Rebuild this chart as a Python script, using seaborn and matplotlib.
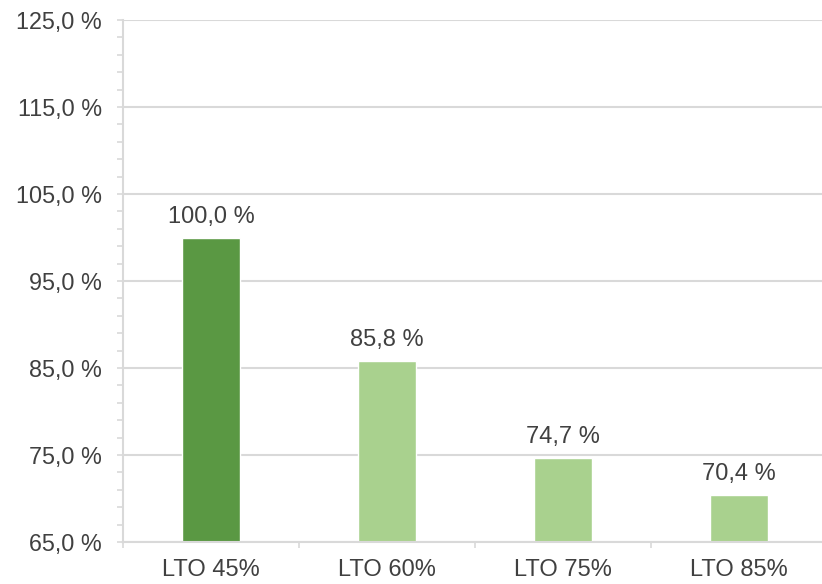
import matplotlib
matplotlib.use("Agg")
import matplotlib.pyplot as plt
from matplotlib.ticker import FixedLocator, MultipleLocator, FuncFormatter
import seaborn as sns
import pandas as pd

categories = ["LTO 45%", "LTO 60%", "LTO 75%", "LTO 85%"]
values = [100.0, 85.8, 74.7, 70.4]
bar_colors = ["#5A9843", "#A9D18E", "#A9D18E", "#A9D18E"]

sns.set_theme(style="white")
plt.rcParams["font.family"] = ["Liberation Sans", "DejaVu Sans"]

TEXT = "#404040"
GRID = "#D9D9D9"

df = pd.DataFrame({"cat": categories, "val": values})

fig = plt.figure(figsize=(8.22, 5.84), dpi=100)
ax = fig.add_axes([123 / 822, 42 / 584, 704 / 822, 522 / 584])

sns.barplot(data=df, x="cat", y="val", hue="cat", palette=bar_colors,
            legend=False, width=0.335, saturation=1, ax=ax, zorder=3)

ax.set_ylim(65, 125)
ax.set_xlim(-0.5, 3.5)

# y axis: major every 10 starting at 65, minor every 2
ax.yaxis.set_major_locator(MultipleLocator(10, offset=5))
ax.yaxis.set_minor_locator(MultipleLocator(2, offset=1))
ax.yaxis.set_major_formatter(FuncFormatter(lambda v, p: f"{v:.1f}".replace(".", ",") + " %"))
ax.tick_params(axis="y", which="both", direction="out", length=4.3, width=1.2,
               color=GRID, labelsize=16.8, labelcolor=TEXT, pad=11, left=True)
ax.grid(axis="y", which="major", color=GRID, linewidth=1.5, zorder=0)
ax.set_axisbelow(True)

# x axis: boundary ticks, labels centred on categories
ax.xaxis.set_major_locator(FixedLocator([-0.5, 0.5, 1.5, 2.5, 3.5]))
ax.xaxis.set_major_formatter(FuncFormatter(lambda v, p: ""))
ax.set_xticks(range(len(categories)), categories, minor=True)
ax.tick_params(axis="x", which="major", direction="out", length=4.5, width=1.2,
               color=GRID, bottom=True)
ax.tick_params(axis="x", which="minor", length=0, labelsize=17,
               labelcolor=TEXT, pad=12)

for side in ["top", "right"]:
    ax.spines[side].set_visible(False)
for side in ["left", "bottom"]:
    ax.spines[side].set_color(GRID)
    ax.spines[side].set_linewidth(1.5)
    ax.spines[side].set_zorder(4)

ax.set_xlabel("")
ax.set_ylabel("")

for i, v in enumerate(values):
    ax.annotate(f"{v:.1f}".replace(".", ",") + " %", xy=(i, v),
                xytext=(0, 10.8), textcoords="offset points",
                ha="center", va="baseline", fontsize=17, color=TEXT)

fig.savefig("out.png", dpi=100)
